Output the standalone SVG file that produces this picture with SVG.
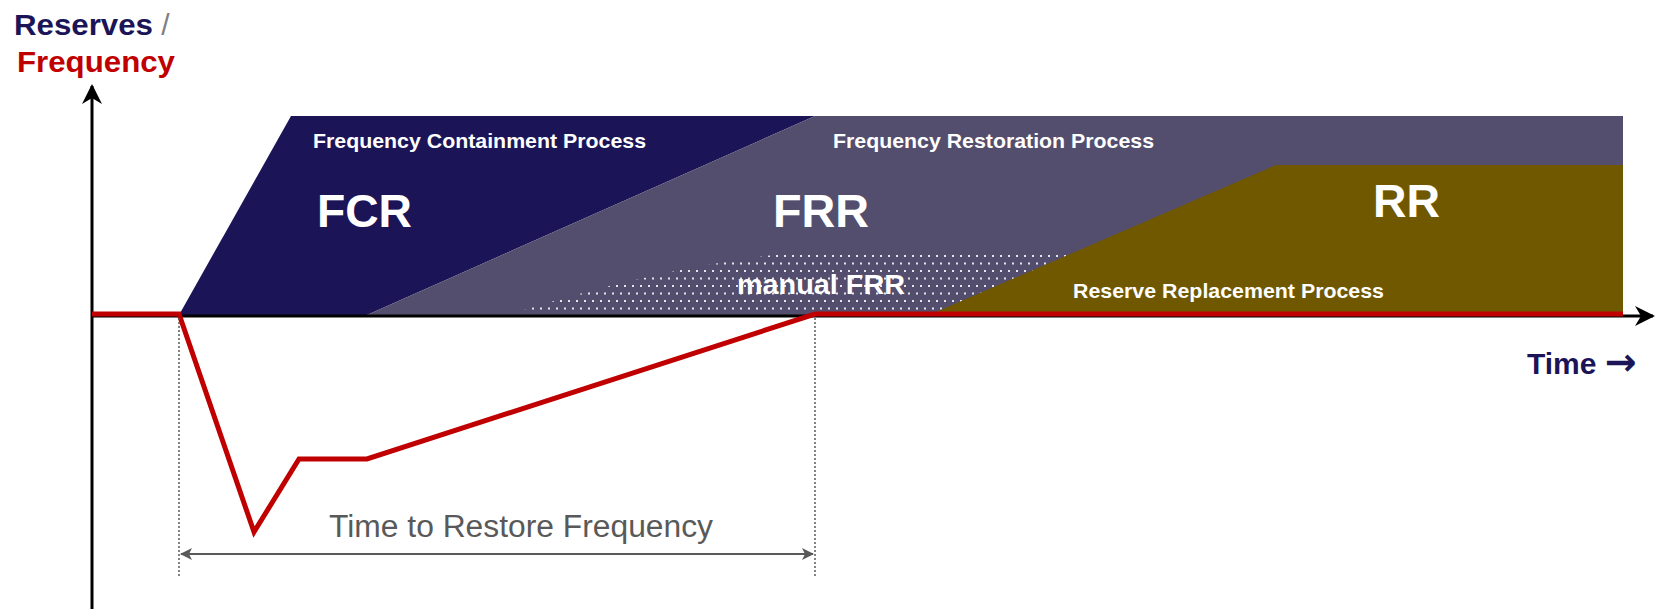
<svg xmlns="http://www.w3.org/2000/svg" width="1674" height="609" viewBox="0 0 1674 609">
<style>
.b{font-family:"Liberation Sans",Arial,sans-serif;font-weight:bold}
.w{fill:#ffffff}
.r{font-family:"Liberation Sans",Arial,sans-serif}
</style>
<defs>
<pattern id="dots" width="8" height="15" patternUnits="userSpaceOnUse">
<rect x="0" y="0" width="2" height="2" fill="#ffffff" opacity="0.85"/>
<rect x="4" y="7.5" width="2" height="2" fill="#ffffff" opacity="0.85"/>
</pattern>
<marker id="ax" viewBox="0 0 20 20" refX="18" refY="10" markerWidth="20" markerHeight="20" markerUnits="userSpaceOnUse" orient="auto">
<path d="M0,0 L20,10 L0,20 L6,10 Z" fill="#000"/>
</marker>
<marker id="dm" viewBox="0 0 12 12" refX="11" refY="6" markerWidth="12" markerHeight="12" markerUnits="userSpaceOnUse" orient="auto-start-reverse">
<path d="M0,0 L12,6 L0,12 L3,6 Z" fill="#595959"/>
</marker>
</defs>
<rect width="1674" height="609" fill="#ffffff"/>
<g id="fcr">
<polygon points="179,315 291,116 815,116 367,315" fill="#1b1558"/>
<text class="b w" x="313" y="148" font-size="21" textLength="333" lengthAdjust="spacingAndGlyphs">Frequency Containment Process</text>
<text class="b w" x="317" y="227" font-size="46" textLength="95" lengthAdjust="spacingAndGlyphs">FCR</text>
</g>
<g id="frr">
<polygon points="367,315 815,116 1623,116 1623,315" fill="#544e6e"/>
<text class="b w" x="833" y="148" font-size="21" textLength="321" lengthAdjust="spacingAndGlyphs">Frequency Restoration Process</text>
<text class="b w" x="773" y="227" font-size="46" textLength="96" lengthAdjust="spacingAndGlyphs">FRR</text>
</g>
<g id="manual-frr">
<path d="M507,315 Q650,270 773,255 L1100,255 L1100,315 Z" fill="url(#dots)"/>
<text class="b w" x="737" y="294" font-size="28.5" textLength="168" lengthAdjust="spacingAndGlyphs">manual FRR</text>
</g>
<g id="rr">
<polygon points="929,315 1276,165 1623,165 1623,315" fill="#705800"/>
<text class="b w" x="1373" y="217" font-size="46" textLength="67" lengthAdjust="spacingAndGlyphs">RR</text>
<text class="b w" x="1073" y="298" font-size="21" textLength="311" lengthAdjust="spacingAndGlyphs">Reserve Replacement Process</text>
</g>
<g id="axes">
<line x1="92" y1="609" x2="92" y2="86" stroke="#000" stroke-width="3" marker-end="url(#ax)"/>
<line x1="92" y1="316" x2="1653" y2="316" stroke="#000" stroke-width="3" marker-end="url(#ax)"/>
</g>
<g id="labels">
<text class="b" x="14" y="35" font-size="30"><tspan fill="#1b1558" textLength="139" lengthAdjust="spacingAndGlyphs">Reserves</tspan><tspan fill="#7f7f7f" font-weight="normal"> /</tspan></text>
<text class="b" x="17" y="72" font-size="30" fill="#c00000" textLength="158" lengthAdjust="spacingAndGlyphs">Frequency</text>
<text class="b" x="1527" y="374" font-size="30" fill="#1b1558">Time <tspan font-family="DejaVu Sans" font-weight="bold" font-size="38" dy="1">→</tspan></text>
</g>
<g id="connectors">
<polyline points="92,314 179,314 254,532 299,459 367,459 815,314 1623,314" fill="none" stroke="#c00000" stroke-width="5" stroke-linejoin="miter"/>
<line x1="179" y1="318" x2="179" y2="578" stroke="#595959" stroke-width="1.5" stroke-dasharray="2,2"/>
<line x1="815" y1="318" x2="815" y2="578" stroke="#595959" stroke-width="1.5" stroke-dasharray="2,2"/>
<line x1="181" y1="554" x2="813" y2="554" stroke="#595959" stroke-width="2" marker-start="url(#dm)" marker-end="url(#dm)"/>
</g>
<g id="dimension-label">
<text class="r" x="521" y="537" font-size="31" fill="#595959" text-anchor="middle" textLength="384" lengthAdjust="spacingAndGlyphs">Time to Restore Frequency</text>
</g>
</svg>
